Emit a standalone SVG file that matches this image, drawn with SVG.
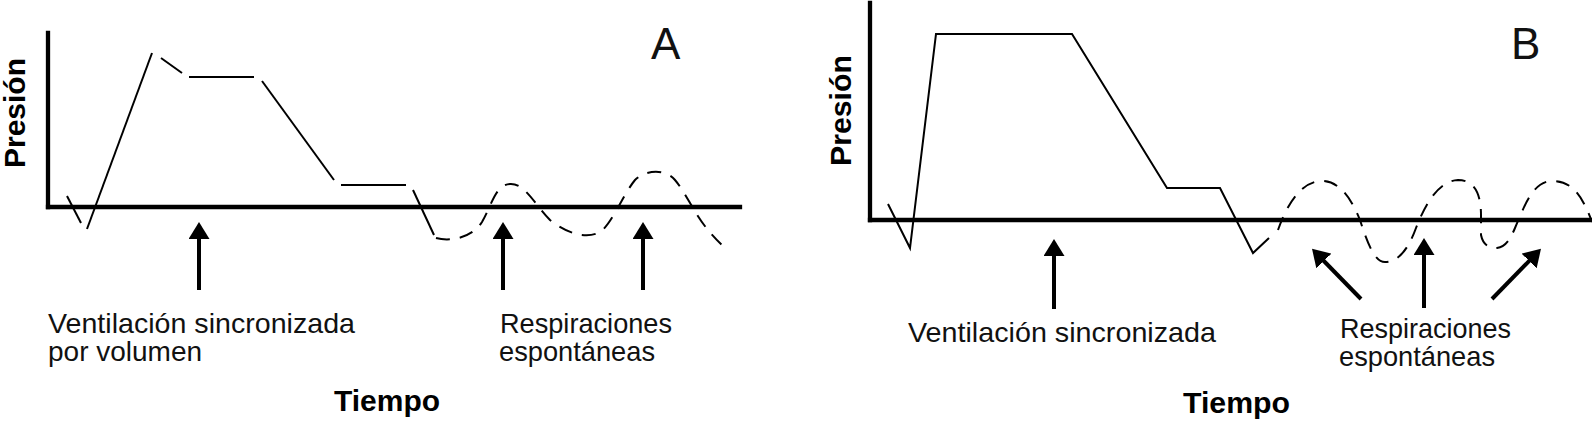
<svg xmlns="http://www.w3.org/2000/svg" width="1592" height="421" viewBox="0 0 1592 421">
<style>
.axis{stroke:#000;stroke-width:4.3;fill:none;stroke-linecap:square}
.curve{stroke:#000;stroke-width:2;fill:none;stroke-linecap:butt;stroke-linejoin:miter}
.dash{stroke:#000;stroke-width:2;fill:none;stroke-dasharray:14 10}
.arrow{stroke:#000;stroke-width:4;fill:none;marker-end:url(#head)}
.lbl{font-family:"Liberation Sans",Arial,sans-serif;font-size:28px;fill:#111}
.bold{font-family:"Liberation Sans",Arial,sans-serif;font-size:29px;font-weight:bold;fill:#000}
.big{font-family:"Liberation Sans",Arial,sans-serif;font-size:44px;fill:#111}
</style>
<defs>
<marker id="head" viewBox="0 0 17 21" refX="7" refY="10.5" markerWidth="17" markerHeight="21" markerUnits="userSpaceOnUse" orient="auto">
<path d="M0,0 L17,10.5 L0,21 Z" fill="#000"/>
</marker>
</defs>
<rect width="1592" height="421" fill="#fff"/>

<g id="panelA">
<g id="axesA">
<line class="axis" x1="48" y1="33" x2="48" y2="207"/>
<line class="axis" x1="48" y1="207" x2="740" y2="207"/>
</g>
<g id="curveA">
<line class="curve" x1="67" y1="196" x2="81" y2="223"/>
<line class="curve" x1="87" y1="229" x2="152" y2="53"/>
<line class="curve" x1="161" y1="58" x2="182" y2="73"/>
<line class="curve" x1="189" y1="77" x2="254" y2="77"/>
<line class="curve" x1="262" y1="81" x2="334" y2="180"/>
<line class="curve" x1="341" y1="185" x2="406" y2="185"/>
<line class="curve" x1="413" y1="190" x2="434" y2="235"/>
<path class="dash" d="M436,238 C450,242 472,238 482,222 C492,205 495,185 510,184 C525,183 535,205 550,220 C565,232 585,240 600,232 C612,224 622,196 635,180 C645,170 665,168 675,180 C690,198 695,220 723,246"/>
</g>
<text class="big" x="651" y="59">A</text>
<text class="bold" transform="translate(25,168) rotate(-90)" textLength="110" lengthAdjust="spacingAndGlyphs">Presión</text>
<text class="lbl" x="48" y="333" textLength="307" lengthAdjust="spacingAndGlyphs">Ventilación sincronizada</text>
<text class="lbl" x="48" y="361">por volumen</text>
<text class="lbl" x="500" y="333" textLength="172" lengthAdjust="spacingAndGlyphs">Respiraciones</text>
<text class="lbl" x="499" y="361" textLength="156" lengthAdjust="spacingAndGlyphs">espontáneas</text>
<text class="bold" x="334" y="411" textLength="106" lengthAdjust="spacingAndGlyphs">Tiempo</text>
</g>

<g id="panelB">
<g id="axesB">
<line class="axis" x1="870" y1="3" x2="870" y2="220"/>
<line class="axis" x1="870" y1="220" x2="1592" y2="220"/>
</g>
<g id="curveB">
<path class="curve" d="M888,204 L910,248 L936,34 L1072,34 L1167,188 L1220,188 L1253,253 L1269,238"/>
<path class="dash" d="M1278,230 C1285,210 1298,183 1320,181 C1340,180 1352,200 1360,220 C1368,245 1375,262 1385,262 C1398,262 1408,250 1416,228 C1425,205 1438,181 1458,180 C1475,180 1481,195 1481,215 L1481,235 C1483,245 1490,249 1497,248 C1505,247 1510,240 1515,228 C1523,210 1532,181 1552,181 C1572,181 1582,195 1592,222"/>
</g>
<text class="big" x="1511" y="59">B</text>
<text class="bold" transform="translate(851,166) rotate(-90)" textLength="111" lengthAdjust="spacingAndGlyphs">Presión</text>
<text class="lbl" x="908" y="342" textLength="308" lengthAdjust="spacingAndGlyphs">Ventilación sincronizada</text>
<text class="lbl" x="1340" y="338" textLength="171" lengthAdjust="spacingAndGlyphs">Respiraciones</text>
<text class="lbl" x="1339" y="366" textLength="156" lengthAdjust="spacingAndGlyphs">espontáneas</text>
<text class="bold" x="1183" y="413" textLength="107" lengthAdjust="spacingAndGlyphs">Tiempo</text>
</g>

<g id="connectors">
<line class="arrow" x1="199" y1="290" x2="199" y2="232"/>
<line class="arrow" x1="503" y1="290" x2="503" y2="232"/>
<line class="arrow" x1="643" y1="290" x2="643" y2="232"/>
<line class="arrow" x1="1054" y1="309" x2="1054" y2="249"/>
<line class="arrow" x1="1424" y1="308" x2="1424" y2="248"/>
<line class="arrow" x1="1361" y1="299" x2="1319" y2="256"/>
<line class="arrow" x1="1492" y1="299" x2="1534" y2="256"/>
</g>
</svg>
